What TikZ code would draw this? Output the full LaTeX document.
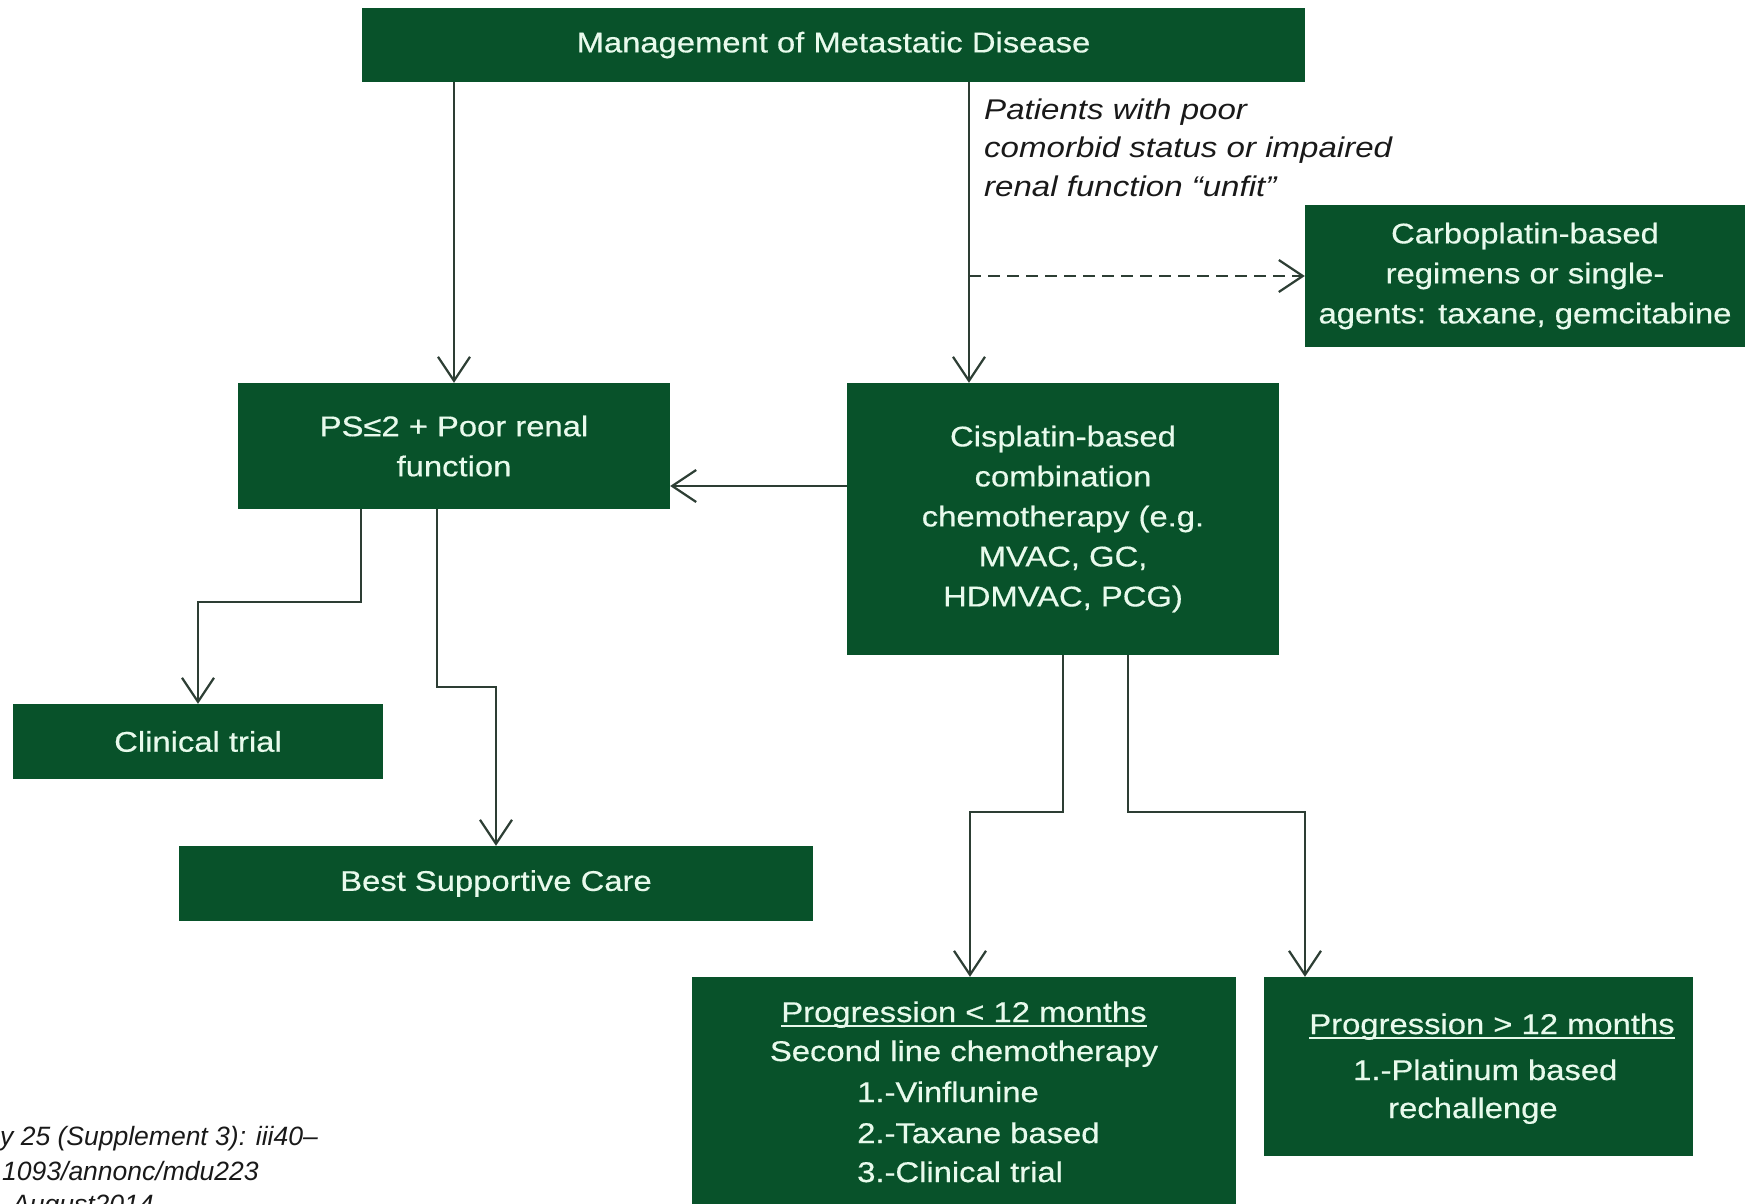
\documentclass[tikz,border=0pt]{standalone}
\usepackage{fontspec}
\setmainfont{Liberation Sans}[FakeStretch=1.16]
\newfontfamily\boxfont{Liberation Sans}[FakeStretch=1.15, FakeBold=0.5]
\newfontfamily\footfont{Liberation Sans}
\usetikzlibrary{arrows.meta}
\definecolor{boxgreen}{RGB}{8,82,42}
\definecolor{boxtext}{RGB}{232,250,236}
\definecolor{linecol}{RGB}{45,62,52}
\definecolor{labeltext}{RGB}{25,25,25}
\newcommand\ulx[1]{\setbox0\hbox{#1}\rlap{\rule[-5pt]{\wd0}{1.8pt}}\box0}
\tikzset{
  gbox/.style={fill=boxgreen, draw=none, text=boxtext, align=center, inner sep=0pt,
    font=\boxfont\fontsize{28.5}{40}\selectfont},
  gtext/.style={text=boxtext, inner sep=0pt, font=\boxfont\fontsize{28.5}{40}\selectfont},
  lbl/.style={text=labeltext, inner sep=0pt, anchor=base west, font=\fontsize{28.5}{38}\selectfont\itshape},
  foot/.style={text=labeltext, inner sep=0pt, anchor=base west, font=\footfont\fontsize{26.5}{32}\selectfont\itshape},
  conn/.style={draw=linecol, line width=2.2pt, -{Straight Barb[length=24pt,width=32pt,line width=2.2pt]}},
  dconn/.style={conn, dash pattern=on 12pt off 7pt}
}
\begin{document}
\begin{tikzpicture}[x=1pt,y=-1pt]
\useasboundingbox (0,0) rectangle (1757,1203);
\clip (0,0) rectangle (1757,1203);
\fill[white] (0,0) rectangle (1757,1203);

% boxes
\node[gbox, minimum width=943pt, minimum height=74pt] (top) at (833.5,45) {Management of Metastatic Disease};
\node[gbox, minimum width=432pt, minimum height=126pt] (ps) at (454,446) {PS≤2 + Poor renal\\function};
\node[gbox, minimum width=432pt, minimum height=272pt] (cis) at (1063,519) {Cisplatin-based\\combination\\chemotherapy (e.g.\\MVAC, GC,\\HDMVAC, PCG)};
\node[gbox, minimum width=440pt, minimum height=142pt] (carbo) at (1525,276) {Carboplatin-based\\regimens or single-\\agents: taxane, gemcitabine};
\node[gbox, minimum width=370pt, minimum height=75pt] (clin) at (198,741.5) {Clinical trial};
\node[gbox, minimum width=634pt, minimum height=75pt] (bsc) at (496,883.5) {Best Supportive Care};
\node[gbox, minimum width=544pt, minimum height=238pt] (p1) at (964,1096) {};
\node[gbox, minimum width=429pt, minimum height=179pt] (p2) at (1478.5,1066.5) {};

% texts of progression boxes
\node[gtext, anchor=base] (p1a) at (964,1022) {\ulx{Progression < 12 months}};
\node[gtext, anchor=base] (p1b) at (964,1061) {Second line chemotherapy};
\node[gtext, anchor=base west] (p1c) at (857,1102) {1.-Vinflunine};
\node[gtext, anchor=base west] (p1d) at (857,1143) {2.-Taxane based};
\node[gtext, anchor=base west] (p1e) at (857,1182) {3.-Clinical trial};
\node[gtext, anchor=base] (p2a) at (1492,1034) {\ulx{Progression > 12 months}};
\node[gtext, anchor=base west] (p2b) at (1353,1080) {1.-Platinum based};
\node[gtext, anchor=base west] (p2c) at (1388,1118) {rechallenge};

% italic label
\node[lbl] (l1) at (984,119) {Patients with poor};
\node[lbl] (l2) at (984,157) {comorbid status or impaired};
\node[lbl] (l3) at (984,196) {renal function “unfit”};

% footer
\node[foot] (f1) at (0,1145) {y 25 (Supplement 3): iii40–};
\node[foot] (f2) at (2,1180) {1093/annonc/mdu223};
\node[foot] (f3) at (12,1213) {August2014};

% helper coordinates
\coordinate (c1) at (969,0);
\coordinate (c2) at (0,486);
\coordinate (c3) at (361,602);
\coordinate (c4) at (437,687);
\coordinate (c5) at (1063,812);
\coordinate (c6) at (970,0);
\coordinate (c7) at (1128,812);
\coordinate (c8) at (1305,0);

% connectors
\draw[conn] (top.south -| ps.north) -- (ps.north);
\draw[conn] (top.south -| c1) -- (cis.north -| c1);
\draw[dconn] (c1 |- carbo.west) -- (carbo.west);
\draw[conn] (cis.west |- c2) -- (ps.east |- c2);
\draw[conn] (ps.south -| c3) -- (c3) -| (clin.north);
\draw[conn] (ps.south -| c4) -- (c4) -| (bsc.north);
\draw[conn] (cis.south) -- (c5) -| (p1.north -| c6);
\draw[conn] (cis.south -| c7) -- (c7) -| (p2.north -| c8);
\end{tikzpicture}
\end{document}
